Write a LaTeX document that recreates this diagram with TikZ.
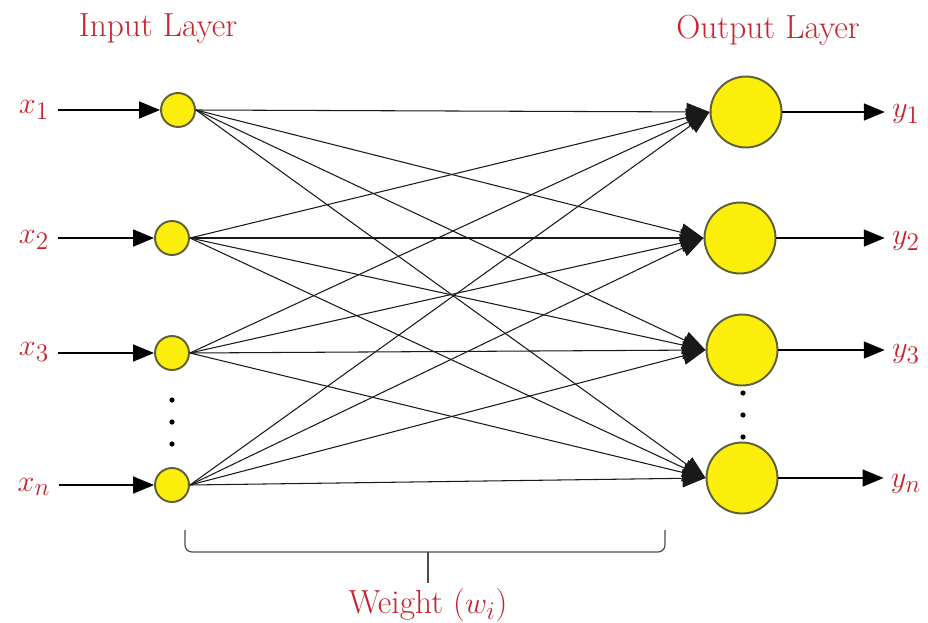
\documentclass[tikz,border=0pt]{standalone}
\usetikzlibrary{arrows.meta, positioning}
\definecolor{lblred}{RGB}{200,35,45}
\definecolor{cellfill}{RGB}{250,238,10}
\definecolor{celledge}{RGB}{95,95,60}
\tikzset{
  neuron/.style={circle, draw=celledge, fill=cellfill, line width=1.1pt,
                 minimum size=#1, inner sep=0pt},
  neuron/.default=0.68cm,
  lbl/.style={text=lblred, font=\fontsize{19}{22}\selectfont, inner sep=1pt},
  sig/.style={-{Triangle[length=0.42cm,width=0.34cm]}, line width=0.9pt},
  wgt/.style={-{Triangle[length=0.46cm,width=0.36cm]}, line width=0.6pt, black!90},
}
\begin{document}
\begin{tikzpicture}[x=0.02cm, y=-0.02cm]
  \useasboundingbox (0,0) rectangle (928,622);
  % headings
  \node[lbl] (inhead)  at (158,28) {Input Layer};
  \node[lbl] (outhead) at (768,30) {Output Layer};
  % input layer
  \node[neuron] (in1) at (178,110) {};
  \node[neuron] (in2) at (172,238) {};
  \node[neuron] (in3) at (172,353) {};
  \node[neuron] (inn) at (172,485) {};
  % output layer
  \node[neuron=1.42cm] (out1) at (746,112) {};
  \node[neuron=1.42cm] (out2) at (740,238) {};
  \node[neuron=1.42cm] (out3) at (742,350) {};
  \node[neuron=1.42cm] (outn) at (742,478) {};
  % inputs and outputs
  \node[lbl] (x1) at (34,110) {$x_1$};
  \node[lbl] (x2) at (34,240) {$x_2$};
  \node[lbl] (x3) at (34,352) {$x_3$};
  \node[lbl] (xn) at (34,487) {$x_n$};
  \node[lbl] (y1) at (906,114) {$y_1$};
  \node[lbl] (y2) at (906,241) {$y_2$};
  \node[lbl] (y3) at (906,354) {$y_3$};
  \node[lbl] (yn) at (906,484) {$y_n$};
  \foreach \k in {1,2,3,n} {
    \draw[sig] ([xshift=4pt]in\k.west -| x\k.east) -- (in\k.west);
    \draw[sig] (out\k.east) -- ([xshift=-3pt]out\k.east -| y\k.west);
  }
  % weights
  \foreach \i in {1,2,3,n}
    \foreach \j in {1,2,3,n}
      \draw[wgt] (in\i.east) -- (out\j.west);
  % dots
  \foreach \d in {0,22,44} {
    \fill (172,400+\d) circle (2.6);
    \fill (743,393+\d) circle (2.6);
  }
  % weight bracket
  \draw[black!70, line width=0.7pt, rounded corners=4pt]
    (185,530) -- (185,552) -- (665,552) -- (665,530);
  \coordinate (tip) at (428,583);
  \draw[black!70, line width=0.7pt] (428,552) -- (tip);
  \node[lbl, below=2pt of tip] (wlabel) {Weight ($w_i$)};
\end{tikzpicture}
\end{document}
